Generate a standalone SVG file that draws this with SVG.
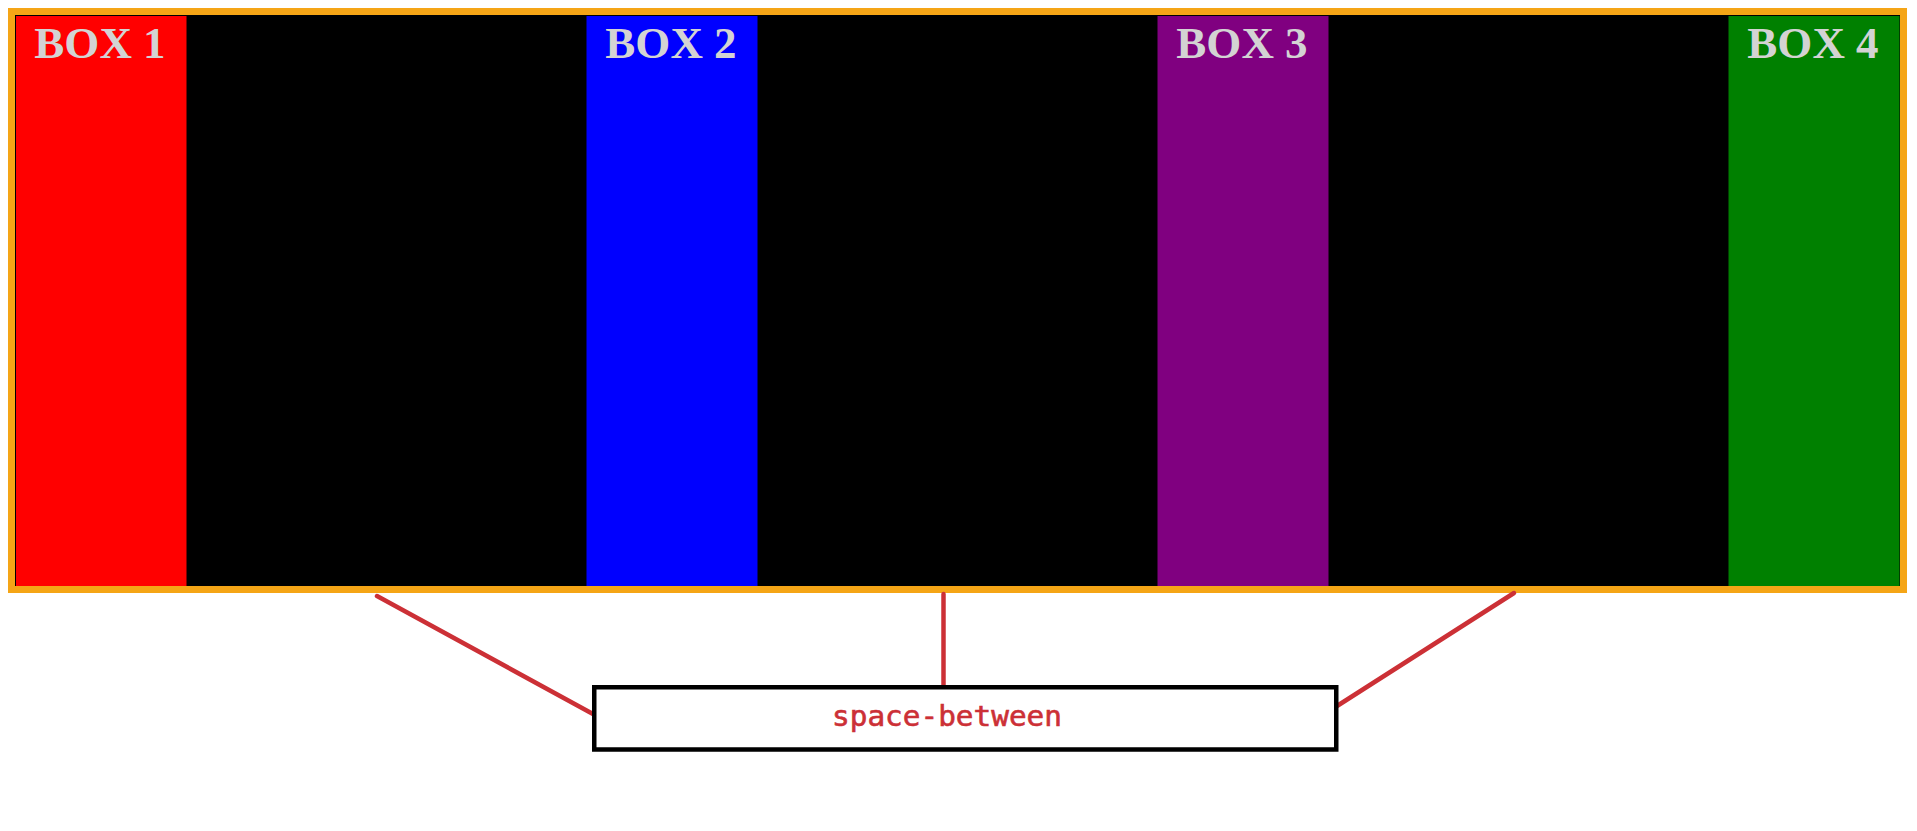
<svg xmlns="http://www.w3.org/2000/svg" width="1917" height="831" viewBox="0 0 1917 831">
<style>
.lbl{font-family:"Liberation Serif","Times New Roman",serif;font-weight:bold;font-size:45px;fill:#d3d3d3;text-anchor:middle}
.conn{stroke:#cc3036;stroke-width:4.5;stroke-linecap:round;fill:none}
.code{font-family:"DejaVu Sans Mono","Liberation Mono",monospace;font-size:28px;fill:#cc3036;stroke:#cc3036;stroke-width:0.6}
</style>
<rect width="1917" height="831" fill="#ffffff"/>
<g id="container">
<rect x="11.5" y="11.5" width="1892" height="578" fill="#000000" stroke="#f5a516" stroke-width="7"/>
</g>
<g id="box1">
<rect x="16" y="16" width="170.5" height="570" fill="#ff0000"/>
<text class="lbl" x="100" y="58">BOX 1</text>
</g>
<g id="box2">
<rect x="586.5" y="16" width="171" height="570" fill="#0000ff"/>
<text class="lbl" x="671" y="58">BOX 2</text>
</g>
<g id="box3">
<rect x="1157.5" y="16" width="171" height="570" fill="#800080"/>
<text class="lbl" x="1242" y="58">BOX 3</text>
</g>
<g id="box4">
<rect x="1728.5" y="16" width="171" height="570" fill="#008000"/>
<text class="lbl" x="1813" y="58">BOX 4</text>
</g>
<g id="connectors">
<line class="conn" x1="377" y1="596" x2="593" y2="714"/>
<line class="conn" x1="943.5" y1="594" x2="943.5" y2="687"/>
<line class="conn" x1="1514" y1="593" x2="1337" y2="706"/>
</g>
<g id="label">
<rect x="594.25" y="687.25" width="742" height="62.25" fill="#ffffff" stroke="#000000" stroke-width="4.5"/>
<text class="code" x="832" y="726" textLength="230" lengthAdjust="spacingAndGlyphs">space-between</text>
</g>
</svg>
